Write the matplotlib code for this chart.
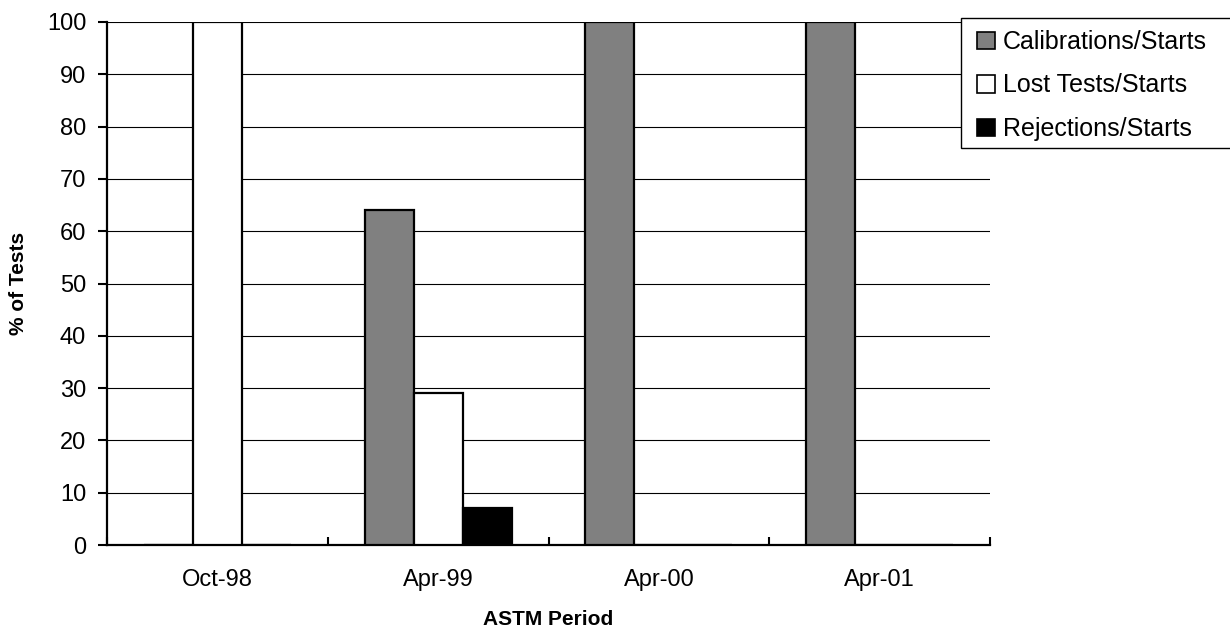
import numpy as np
import matplotlib.pyplot as plt
from matplotlib.patches import Rectangle

periods = ["Oct-98", "Apr-99", "Apr-00", "Apr-01"]
calibrations = [0, 64, 100, 100]
lost_tests = [100, 29, 0, 0]
rejections = [0, 7, 0, 0]

series = [
    ("Calibrations/Starts", calibrations, "#808080"),
    ("Lost Tests/Starts", lost_tests, "white"),
    ("Rejections/Starts", rejections, "black"),
]

plt.rcParams["font.family"] = ["Liberation Sans", "DejaVu Sans"]

W, H = 1230, 629
fig = plt.figure(figsize=(W / 100, H / 100), dpi=100)
ax = fig.add_axes([107 / W, 1 - 545 / H, (990 - 107) / W, (545 - 22) / H])

x = np.arange(len(periods))
width = 1 / 4.5
handles = []
for i, (name, vals, color) in enumerate(series):
    b = ax.bar(x + (i - 1) * width, vals, width, color=color,
               edgecolor="black", linewidth=1.6, label=name, zorder=3)
    handles.append(b)

ax.set_xlim(-0.5, len(periods) - 0.5)
ax.set_ylim(0, 100)
ax.set_yticks(np.arange(0, 101, 10))
ax.yaxis.grid(True, color="black", linewidth=0.8, zorder=0)

# category labels in the middle, tick marks on the group boundaries
ax.set_xticks(x)
ax.set_xticklabels(periods)
ax.set_xticks(np.arange(-0.5, len(periods)), minor=True)
ax.tick_params(axis="x", which="major", length=0, pad=17, labelsize=17)
ax.tick_params(axis="x", which="minor", direction="in", length=6, width=1.5)
ax.tick_params(axis="y", length=6.5, width=1.5, labelsize=17, pad=8.5)

for side in ["top", "right"]:
    ax.spines[side].set_visible(False)
for side in ["left", "bottom"]:
    ax.spines[side].set_linewidth(1.6)

fig.text(548.5 / W, 4 / H, "ASTM Period", fontsize=15, fontweight="bold",
         ha="center", va="baseline")
fig.text(18.5 / W, 1 - 283 / H, "% of Tests", fontsize=15, fontweight="bold",
         ha="center", va="center", rotation=90)

# legend box runs off the right edge of the figure
fig.patches.append(Rectangle((961 / W, 1 - 148 / H), 300 / W, 130 / H,
                             transform=fig.transFigure, facecolor="white",
                             edgecolor="black", linewidth=1.0, zorder=5))
leg = fig.legend(handles=handles, loc="upper left",
                 bbox_to_anchor=(972 / W, 1 - 25 / H),
                 fontsize=18, frameon=False,
                 handlelength=0.7, handleheight=0.7, handletextpad=0.35,
                 labelspacing=0.78, borderpad=0.2, borderaxespad=0)
leg.set_zorder(6)
for h in leg.legend_handles:
    h.set_linewidth(1.2)

fig.savefig("out.png", dpi=100)
